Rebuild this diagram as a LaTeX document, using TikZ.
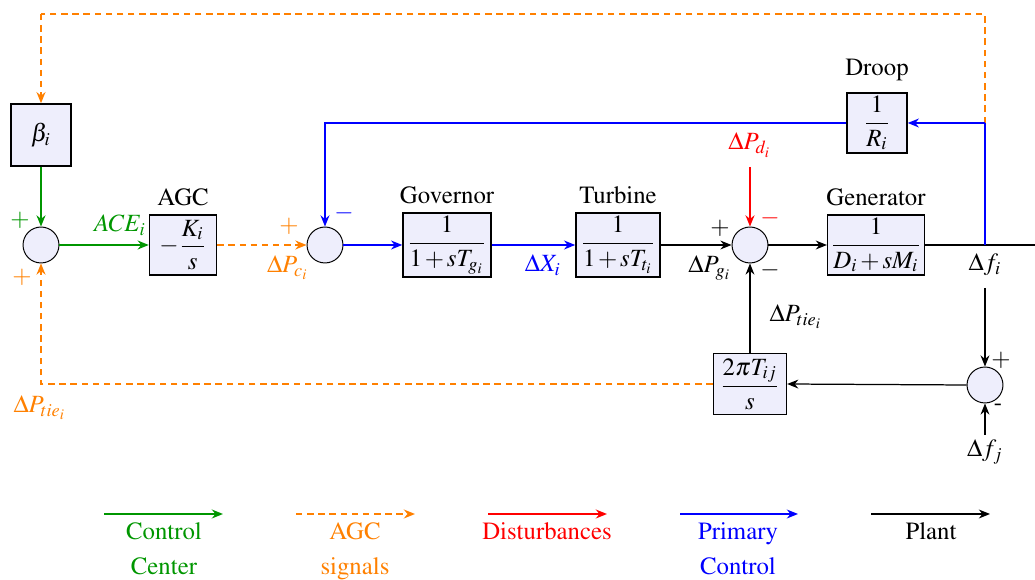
\documentclass[tikz,border=0pt]{standalone}
\usepackage{amsmath}
\usepackage[T1]{fontenc}
\usepackage{mathptmx}
\usetikzlibrary{arrows.meta}
\definecolor{cgreen}{RGB}{0,150,0}
\definecolor{corange}{RGB}{255,128,0}
\definecolor{blkfill}{RGB}{238,238,252}
\newcommand{\tp}{\mkern2mu{+}\mkern2mu}
\tikzset{
  blk/.style={draw=black, semithick, fill=blkfill, inner sep=1pt},
  sumnode/.style={circle, draw=black, thin, fill=blkfill, minimum size=14.5pt, inner sep=0pt},
  arr/.style={-{Stealth[length=4.5pt,width=3.6pt]}},
  ctrl/.style={arr, draw=cgreen, line width=0.8pt},
  agcsig/.style={arr, draw=corange, line width=0.8pt, dash pattern=on 2.6pt off 1.9pt},
  dist/.style={arr, draw=red, line width=0.8pt},
  pri/.style={arr, draw=blue, line width=0.6pt},
  plant/.style={arr, draw=black, line width=0.5pt},
  lbl/.style={font=\fontsize{10}{12}\selectfont, inner sep=0pt},
  leg/.style={font=\fontsize{10}{12}\selectfont, align=center, inner sep=0pt},
}
\begin{document}
\begin{tikzpicture}[x=0.01417cm, y=-0.01417cm]
\useasboundingbox (0,0) rectangle (1035,580);
% blocks
\node[blk, minimum width=24.2pt, minimum height=25pt] (beta) at (41,135) {$\beta_i$};
\node[sumnode] (s1) at (41,245) {};
\node[blk, minimum width=27pt, minimum height=24.2pt] (agc) at (183,245) {$-\dfrac{K_i}{s}$};
\node[sumnode] (s2) at (325,245) {};
\node[blk, minimum width=35.5pt, minimum height=25.8pt] (gov) at (447,245) {$\dfrac{1}{1\tp sT_{g_i}}$};
\node[blk, minimum width=33.9pt, minimum height=25.8pt] (tur) at (618,245) {$\dfrac{1}{1\tp sT_{t_i}}$};
\node[sumnode] (s3) at (750,245) {};
\node[blk, minimum width=39pt, minimum height=24.2pt] (gen) at (876,245) {$\dfrac{1}{D_i\tp sM_i}$};
\node[blk, minimum width=24.2pt, minimum height=24.2pt] (droop) at (877,123) {$\dfrac{1}{R_i}$};
\node[sumnode] (s4) at (985,385) {};
\node[blk, minimum width=29.4pt, minimum height=24.6pt] (tie) at (750,384) {$\dfrac{2\pi T_{ij}}{s}$};
% coordinates
\coordinate (fi) at (985,245);
\coordinate (fb) at (985,123);
\coordinate (oTR) at (985,14);
\coordinate (oTL) at (41,14);
\coordinate (outR) at (1035,245);
\coordinate (fi2) at (985,288);
\coordinate (fj) at (985,435);
\coordinate (pd) at (750,167);
% connectors
\draw[agcsig, -] (fb) -- (oTR) -- (oTL);
\draw[agcsig] (oTL) -- (beta.north);
\draw[ctrl] (beta.south) -- (s1.north);
\draw[ctrl] (s1.east) -- (agc.west);
\draw[agcsig] (agc.east) -- (s2.west);
\draw[pri] (s2.east) -- (gov.west);
\draw[pri] (gov.east) -- (tur.west);
\draw[plant] (tur.east) -- (s3.west);
\draw[plant] (s3.east) -- (gen.west);
\draw[plant, -] (gen.east) -- (outR);
\draw[pri, -] (fi) -- (fb);
\draw[pri] (fb) -- (droop.east);
\draw[pri] (droop.west) -| (s2.north);
\draw[dist] (pd) -- (s3.north);
\draw[plant] (fi2) -- (s4.north);
\draw[plant] (fj) -- (s4.south);
\draw[plant] (s4.west) -- (tie.east);
\draw[plant] (tie.north) -- (s3.south);
\draw[agcsig] (tie.west) -| (s1.south);
% labels
\node[lbl, text=cgreen] (lp1) at (20,220) {$+$};
\node[lbl, text=corange] (lp2) at (22,277) {$+$};
\node[lbl, text=cgreen] (lace) at (120,225) {$ACE_i$};
\node[lbl] (lagc) at (183,197) {AGC};
\node[lbl, text=corange] (lp3) at (289,226) {$+$};
\node[lbl, text=corange] (lpc) at (288,268) {$\Delta P_{c_i}$};
\node[lbl, text=blue] (lm1) at (344,213) {$-$};
\node[lbl] (lgov) at (447,195) {Governor};
\node[lbl] (ltur) at (618,195) {Turbine};
\node[lbl, text=blue] (lx) at (543,265) {$\Delta X_i$};
\node[lbl, text=red] (lpd) at (750,145) {$\Delta P_{d_i}$};
\node[lbl] (lp4) at (720,228) {$+$};
\node[lbl] (lpg) at (710,268) {$\Delta P_{g_i}$};
\node[lbl, text=red] (lm2) at (770,218) {$-$};
\node[lbl] (lm3) at (770,270) {$-$};
\node[lbl] (lgen) at (876,197) {Generator};
\node[lbl] (ldroop) at (877,70) {Droop};
\node[lbl] (lfi) at (985,265) {$\Delta f_i$};
\node[lbl] (lpt) at (796,317) {$\Delta P_{tie_i}$};
\node[lbl] (lp5) at (1001,360) {$+$};
\node[lbl] (lm4) at (998,407) {-};
\node[lbl] (lfj) at (985,452) {$\Delta f_j$};
\node[lbl, text=corange] (lpt2) at (40,408) {$\Delta P_{tie_i}$};
% legend
\coordinate (g1a) at (104,514); \coordinate (g1b) at (223,514);
\coordinate (g2a) at (296,514); \coordinate (g2b) at (415,514);
\coordinate (g3a) at (488,514); \coordinate (g3b) at (607,514);
\coordinate (g4a) at (680,514); \coordinate (g4b) at (798,514);
\coordinate (g5a) at (871,514); \coordinate (g5b) at (990,514);
\draw[ctrl] (g1a) -- (g1b);
\draw[agcsig] (g2a) -- (g2b);
\draw[dist] (g3a) -- (g3b);
\draw[pri] (g4a) -- (g4b);
\draw[plant] (g5a) -- (g5b);
\node[leg, text=cgreen, anchor=north] (t1) at (164,522) {Control\\[2.2pt]Center};
\node[leg, text=corange, anchor=north] (t2) at (355,522) {AGC\\[2.2pt]signals};
\node[leg, text=red, anchor=north] (t3) at (547,522) {Disturbances};
\node[leg, text=blue, anchor=north] (t4) at (738,522) {Primary\\[2.2pt]Control};
\node[leg, text=black, anchor=north] (t5) at (931,522) {Plant};
\end{tikzpicture}
\end{document}
